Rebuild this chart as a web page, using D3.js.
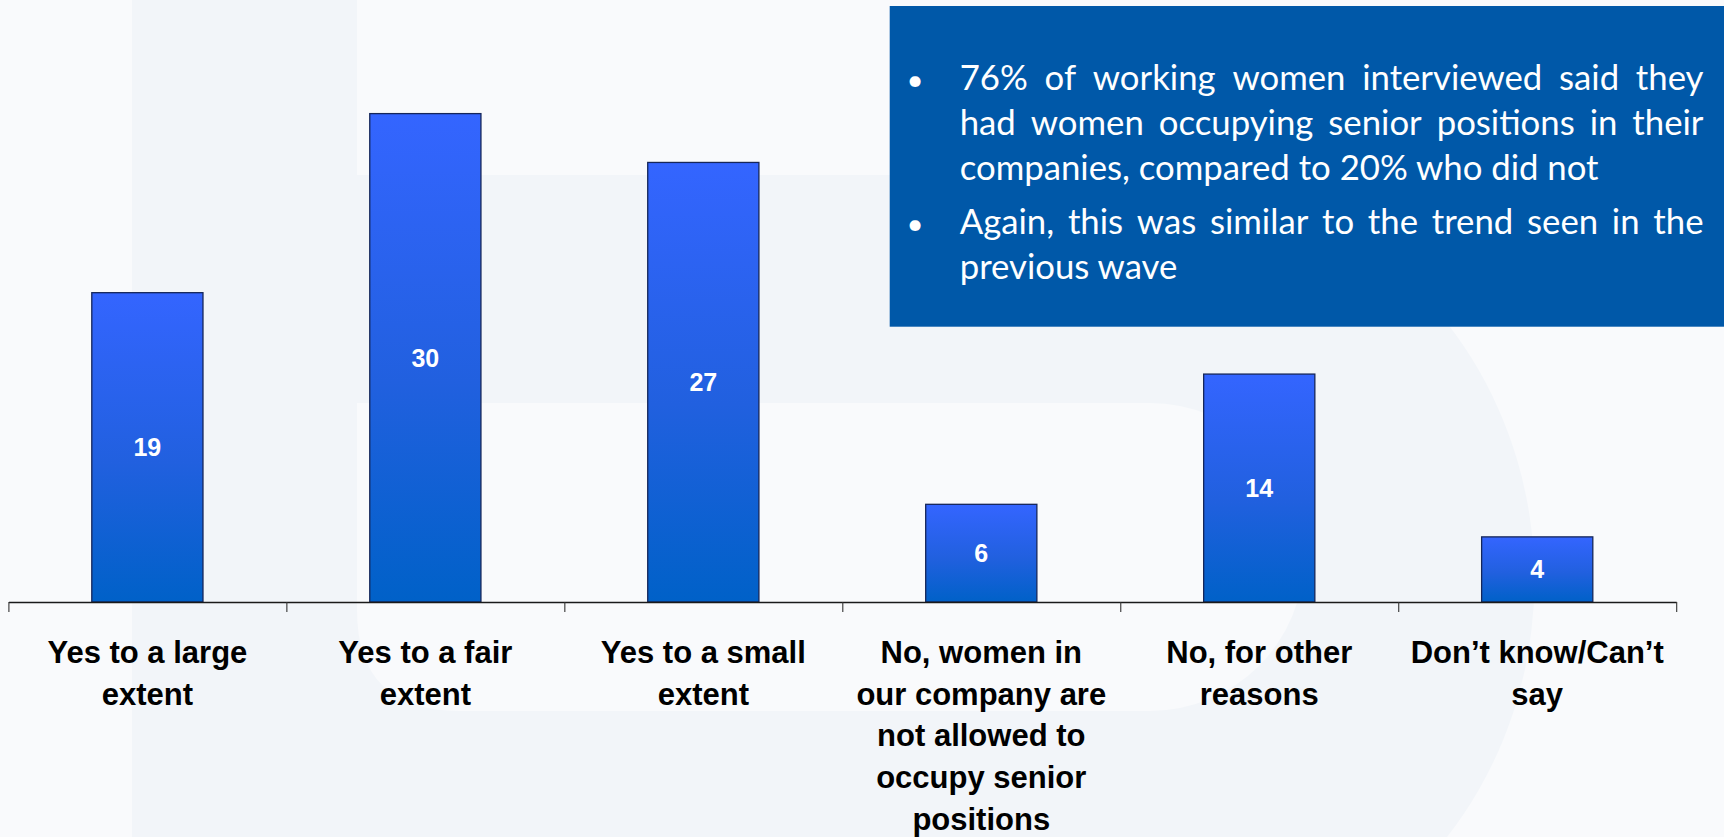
<!DOCTYPE html>
<html>
<head>
<meta charset="utf-8">
<script src="https://cdn.jsdelivr.net/npm/d3@7"></script>
<style>
  html, body { margin: 0; padding: 0; background: #F9FAFC; overflow: hidden; }
  svg { display: block; }
</style>
</head>
<body>
<svg id="chart" width="1724" height="837"></svg>
<script>
// ---- data ----
const categories = [
  "Yes to a large\nextent",
  "Yes to a fair\nextent",
  "Yes to a small\nextent",
  "No, women in\nour company are\nnot allowed to\noccupy senior\npositions",
  "No, for other\nreasons",
  "Don\u2019t know/Can\u2019t\nsay"
];
const values = [19, 30, 27, 6, 14, 4];

const noteParagraphs = [
  ["76% of working women interviewed said they",
   "had women occupying senior positions in their",
   "companies, compared to 20% who did not"],
  ["Again, this was similar to the trend seen in the",
   "previous wave"]
];

// ---- layout ----
const W = 1724, H = 837;
const axisY = 602;
const axisLeft = 8.4, axisRight = 1676.2;

const svg = d3.select("#chart");

// background with faint watermark shape
svg.append("rect").attr("width", W).attr("height", H).attr("fill", "#F9FAFC");
const wm = svg.append("g").attr("fill", "#F2F5F9");
wm.append("rect").attr("x", 132).attr("y", 0).attr("width", 225).attr("height", H);
wm.append("path").attr("d",
  "M357,175 H1150 A385,405 0 0 1 1447,837 H357 Z");
svg.append("path").attr("fill", "#F9FAFC").attr("d",
  "M357,403 H1150 A154,154 0 0 1 1150,711 H460 Q357,711 357,610 Z");

// ---- scales ----
const y = d3.scaleLinear().domain([0, 35]).range([axisY, axisY - 35 * 16.28]);
const xBand = d3.scaleBand().domain(d3.range(categories.length))
  .range([axisLeft, axisRight]).paddingInner(0.6).paddingOuter(0.3);
const xCat = d3.scaleBand().domain(d3.range(categories.length))
  .range([axisLeft, axisRight]).padding(0);
const xTicks = d3.scaleLinear().domain([0, categories.length]).range([axisLeft, axisRight]);

// bar gradient
const defs = svg.append("defs");
const grad = defs.append("linearGradient").attr("id", "barGrad")
  .attr("x1", 0).attr("y1", 0).attr("x2", 0).attr("y2", 1);
grad.append("stop").attr("offset", "0%").attr("stop-color", "#3465FF");
grad.append("stop").attr("offset", "55%").attr("stop-color", "#2160DF");
grad.append("stop").attr("offset", "100%").attr("stop-color", "#0061C8");

// ---- bars ----
const bars = svg.append("g");
bars.selectAll("rect").data(values).join("rect")
  .attr("x", (d, i) => xBand(i))
  .attr("y", d => y(d))
  .attr("width", xBand.bandwidth())
  .attr("height", d => y(0) - y(d))
  .attr("fill", "url(#barGrad)")
  .attr("stroke", "#15265a")
  .attr("stroke-width", 1.3);

bars.selectAll("text").data(values).join("text")
  .attr("x", (d, i) => xBand(i) + xBand.bandwidth() / 2)
  .attr("y", d => (y(d) + y(0)) / 2)
  .attr("dy", "0.36em")
  .attr("text-anchor", "middle")
  .attr("fill", "#ffffff")
  .attr("font-family", "'Liberation Sans', Arial, sans-serif")
  .attr("font-weight", "bold")
  .attr("font-size", 25)
  .text(d => d);

// ---- axis ----
const axis = d3.axisBottom(xTicks)
  .tickValues(d3.range(categories.length + 1))
  .tickFormat("")
  .tickSizeInner(10)
  .tickSizeOuter(0);
const axisG = svg.append("g").attr("transform", `translate(0,${axisY})`).call(axis);
axisG.select(".domain").attr("stroke", "#1a1a1a").attr("stroke-width", 1.3);
axisG.selectAll(".tick line").attr("stroke", "#333").attr("stroke-width", 1.1);

// category labels
const catG = svg.append("g")
  .attr("font-family", "'Liberation Sans', Arial, sans-serif")
  .attr("font-weight", "bold")
  .attr("font-size", 31)
  .attr("fill", "#000")
  .attr("text-anchor", "middle");
categories.forEach((c, i) => {
  const cx = xCat(i) + xCat.bandwidth() / 2;
  const t = catG.append("text").attr("x", cx).attr("y", 662.7);
  c.split("\n").forEach((line, j) => {
    t.append("tspan")
      .attr("x", cx)
      .attr("y", 662.7 + j * 41.8)
      .text(line);
  });
});

// ---- note box ----
const boxX = 889.7, boxY = 6, boxH = 320.7;
svg.append("rect").attr("x", boxX).attr("y", boxY)
  .attr("width", W - boxX).attr("height", boxH).attr("fill", "#0058A8");

const noteFont = "Lato, 'Noto Sans', sans-serif";
const textLeft = 959.7, textRight = 1703.5, bulletX = 915;
const noteG = svg.append("g").attr("font-family", noteFont).attr("fill", "#ffffff");

// size the note font so the last line of the first paragraph spans its width
const probe = noteG.append("text").attr("font-size", 30).text(noteParagraphs[0][2]);
const probeW = probe.node().getComputedTextLength();
probe.remove();
const noteSize = 30 * 639 / probeW;
noteG.attr("font-size", noteSize);

const baselines = [[89.8, 134.8, 179.8], [234.2, 279.2]];
noteParagraphs.forEach((para, p) => {
  noteG.append("text")
    .attr("x", bulletX).attr("y", baselines[p][0])
    .attr("text-anchor", "middle")
    .attr("font-size", noteSize * 0.85)
    .text("\u2022");
  para.forEach((line, li) => {
    const yy = baselines[p][li];
    const justify = li < para.length - 1;
    if (!justify) {
      noteG.append("text").attr("x", textLeft).attr("y", yy).text(line);
      return;
    }
    // full justification: spread the words across the text column
    const words = line.split(" ");
    const widths = words.map(w => {
      const t = noteG.append("text").text(w);
      const wd = t.node().getComputedTextLength();
      t.remove();
      return wd;
    });
    const total = d3.sum(widths);
    const gap = (textRight - textLeft - total) / (words.length - 1);
    let cx = textLeft;
    words.forEach((w, k) => {
      noteG.append("text").attr("x", cx).attr("y", yy).text(w);
      cx += widths[k] + gap;
    });
  });
});
</script>
</body>
</html>
